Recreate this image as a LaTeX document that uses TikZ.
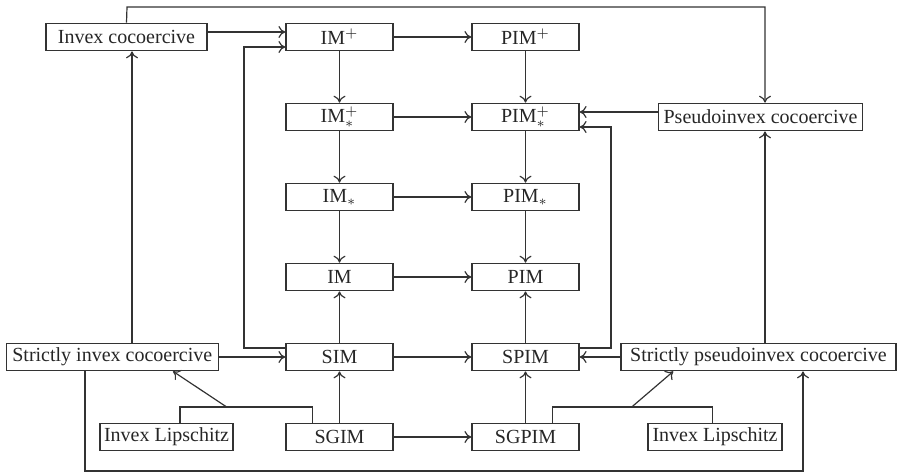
\documentclass[tikz,border=0pt]{standalone}
\usepackage{fontspec}
\setmainfont{Liberation Serif}
\usetikzlibrary{arrows.meta}
\begin{document}
\begin{tikzpicture}[x=0.5pt,y=-0.5pt,
  box/.style={draw=black!80, line width=0.6pt, minimum height=13.75pt, inner sep=0pt, text=black!85, font=\fontsize{10}{12}\selectfont},
  mid/.style={box, minimum width=53.5pt},
  conn/.style={draw=black!80, line width=0.6pt},
  arr/.style={conn, -{To[length=3.5pt,width=6pt]}}]
\useasboundingbox (0,0) rectangle (897,473);
% nodes
\node[box, minimum width=80.5pt] (ic) at (126.5,37) {Invex cocoercive};
\node[mid] (imp) at (339.5,37) {IM$^{+}$};
\node[mid] (pimp) at (525.5,37) {PIM$^{+}$};
\node[mid] (imps) at (339.5,117) {IM$^{+}_{\ast}$};
\node[mid] (pimps) at (525.5,117) {PIM$^{+}_{\ast}$};
\node[box, minimum width=102.25pt] (pc) at (760.5,117) {Pseudoinvex cocoercive};
\node[mid] (ims) at (339.5,197) {IM$_{\ast}$};
\node[mid] (pims) at (525.5,197) {PIM$_{\ast}$};
\node[mid] (im) at (339.5,277) {IM};
\node[mid] (pim) at (525.5,277) {PIM};
\node[box, minimum width=106pt] (sic) at (112.3,357) {Strictly invex cocoercive};
\node[mid] (sim) at (339.5,357) {SIM};
\node[mid] (spim) at (525.5,357) {SPIM};
\node[box, minimum width=137.5pt] (spc) at (758.5,357) {Strictly pseudoinvex cocoercive};
\node[box, minimum width=66.5pt] (il1) at (166.5,437) {Invex Lipschitz};
\node[mid] (sgim) at (339.5,437) {SGIM};
\node[mid] (sgpim) at (525.5,437) {SGPIM};
\node[box, minimum width=67pt] (il2) at (715,437) {Invex Lipschitz};
% helper coordinates
\coordinate (xa) at (132,0);
\coordinate (xb) at (765,0);
\coordinate (xc) at (85,0);
\coordinate (xd) at (803,0);
\coordinate (xe) at (180,0);
\coordinate (xf) at (312.7,0);
\coordinate (xg) at (552.7,0);
\coordinate (xh) at (712.3,0);
\coordinate (ya) at (0,407);
\coordinate (la) at (226.7,407);
\coordinate (lb) at (631.7,407);
\coordinate (ta) at (173,370);
\coordinate (tb) at (673.3,370);
% top loop
\draw[arr] (ic.north) -- (127,7) -| (pc.north -| xb);
\draw[arr] ([yshift=2.5pt]ic.east) -- ([yshift=2.5pt]imp.west);
\draw[arr] ([yshift=4.5pt]sim.west) -| (244,47) -- ([yshift=-5pt]imp.west);
\draw[arr] (sic.north -| xa) -- (ic.south -| xa);
\draw[arr] (sic.east) -- (sim.west);
% columns
\draw[arr] (imp) -- (imps);
\draw[arr] (imps) -- (ims);
\draw[arr] (ims) -- (im);
\draw[arr] (sim) -- (im);
\draw[arr] (sgim) -- (sim);
\draw[arr] (pimp) -- (pimps);
\draw[arr] (pimps) -- (pims);
\draw[arr] (pims) -- (pim);
\draw[arr] (spim) -- (pim);
\draw[arr] (sgpim) -- (spim);
% rows
\draw[arr] (imp) -- (pimp);
\draw[arr] (imps) -- (pimps);
\draw[arr] (ims) -- (pims);
\draw[arr] (im) -- (pim);
\draw[arr] (sim) -- (spim);
\draw[arr] (sgim) -- (sgpim);
% right side
\draw[arr] ([yshift=2.5pt]pc.west) -- ([yshift=2.5pt]pimps.east);
\draw[arr] ([yshift=4.5pt]spim.east) -| (611,127) -- ([yshift=-5pt]pimps.east);
\draw[arr] (spc.west) -- (spim.east);
\draw[arr] (spc.north -| xb) -- (pc.south -| xb);
% bottom
\draw[conn] (il1.north -| xe) |- (ya -| xf) -- (sgim.north -| xf);
\draw[arr] (la) -- (sic.south -| ta);
\draw[arr] (sic.south -| xc) -- (85,471) -| (spc.south -| xd);
\draw[conn] (sgpim.north -| xg) |- (ya -| xh) -- (il2.north -| xh);
\draw[arr] (lb) -- (spc.south -| tb);
\end{tikzpicture}
\end{document}
